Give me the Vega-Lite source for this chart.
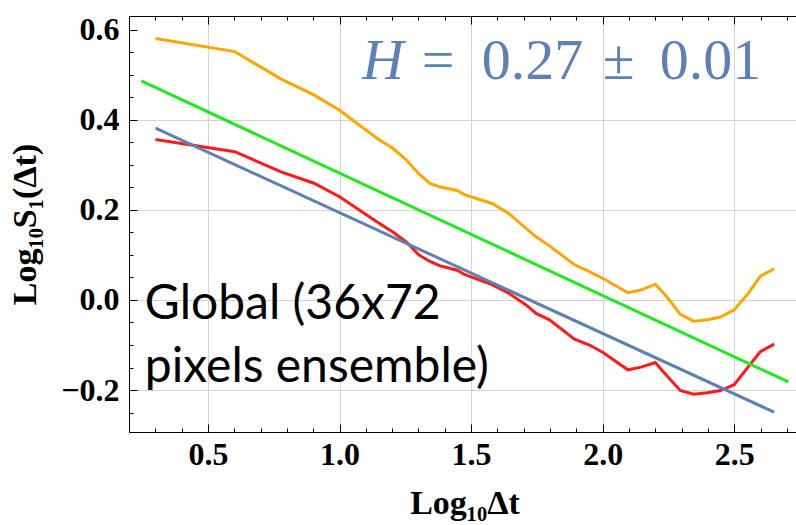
{
  "$schema": "https://vega.github.io/schema/vega-lite/v6.json",
  "width": 671,
  "height": 416,
  "autosize": {"type": "none"},
  "padding": {"left": 129, "top": 16, "right": 0, "bottom": 93},
  "background": "white",
  "config": {
    "view": {"stroke": "black", "strokeWidth": 1},
    "axis": {
      "domainColor": "black",
      "domainWidth": 1,
      "tickColor": "black",
      "tickWidth": 1,
      "gridColor": "#d4d4d4",
      "gridWidth": 1,
      "labelFont": "Liberation Serif",
      "labelFontSize": 32,
      "labelFontWeight": "bold",
      "labelColor": "black",
      "titleFont": "Liberation Serif",
      "titleFontSize": 34,
      "titleFontWeight": "bold",
      "titleColor": "black"
    }
  },
  "datasets": {
    "curves": [
      {"series": "S1", "x": 0.301, "y": 0.580},
      {"series": "S1", "x": 0.602, "y": 0.551},
      {"series": "S1", "x": 0.778, "y": 0.490},
      {"series": "S1", "x": 0.903, "y": 0.455},
      {"series": "S1", "x": 1.0, "y": 0.421},
      {"series": "S1", "x": 1.146, "y": 0.357},
      {"series": "S1", "x": 1.204, "y": 0.336},
      {"series": "S1", "x": 1.255, "y": 0.310},
      {"series": "S1", "x": 1.301, "y": 0.280},
      {"series": "S1", "x": 1.342, "y": 0.259},
      {"series": "S1", "x": 1.380, "y": 0.251},
      {"series": "S1", "x": 1.447, "y": 0.243},
      {"series": "S1", "x": 1.477, "y": 0.233},
      {"series": "S1", "x": 1.580, "y": 0.214},
      {"series": "S1", "x": 1.643, "y": 0.192},
      {"series": "S1", "x": 1.709, "y": 0.159},
      {"series": "S1", "x": 1.747, "y": 0.140},
      {"series": "S1", "x": 1.798, "y": 0.120},
      {"series": "S1", "x": 1.893, "y": 0.078},
      {"series": "S1", "x": 1.950, "y": 0.063},
      {"series": "S1", "x": 2.0, "y": 0.048},
      {"series": "S1", "x": 2.096, "y": 0.016},
      {"series": "S1", "x": 2.146, "y": 0.022},
      {"series": "S1", "x": 2.200, "y": 0.035},
      {"series": "S1", "x": 2.244, "y": 0.007},
      {"series": "S1", "x": 2.295, "y": -0.032},
      {"series": "S1", "x": 2.346, "y": -0.047},
      {"series": "S1", "x": 2.397, "y": -0.044},
      {"series": "S1", "x": 2.448, "y": -0.038},
      {"series": "S1", "x": 2.5, "y": -0.022},
      {"series": "S1", "x": 2.554, "y": 0.015},
      {"series": "S1", "x": 2.599, "y": 0.053},
      {"series": "S1", "x": 2.652, "y": 0.069},
      {"series": "S2", "x": 0.301, "y": 0.356},
      {"series": "S2", "x": 0.602, "y": 0.329},
      {"series": "S2", "x": 0.778, "y": 0.284},
      {"series": "S2", "x": 0.903, "y": 0.259},
      {"series": "S2", "x": 1.0, "y": 0.229},
      {"series": "S2", "x": 1.146, "y": 0.172},
      {"series": "S2", "x": 1.204, "y": 0.150},
      {"series": "S2", "x": 1.255, "y": 0.128},
      {"series": "S2", "x": 1.301, "y": 0.100},
      {"series": "S2", "x": 1.342, "y": 0.086},
      {"series": "S2", "x": 1.380, "y": 0.076},
      {"series": "S2", "x": 1.447, "y": 0.066},
      {"series": "S2", "x": 1.477, "y": 0.056},
      {"series": "S2", "x": 1.580, "y": 0.034},
      {"series": "S2", "x": 1.643, "y": 0.015},
      {"series": "S2", "x": 1.709, "y": -0.011},
      {"series": "S2", "x": 1.747, "y": -0.030},
      {"series": "S2", "x": 1.798, "y": -0.044},
      {"series": "S2", "x": 1.893, "y": -0.087},
      {"series": "S2", "x": 1.950, "y": -0.100},
      {"series": "S2", "x": 2.0, "y": -0.116},
      {"series": "S2", "x": 2.096, "y": -0.155},
      {"series": "S2", "x": 2.146, "y": -0.149},
      {"series": "S2", "x": 2.200, "y": -0.139},
      {"series": "S2", "x": 2.244, "y": -0.168},
      {"series": "S2", "x": 2.295, "y": -0.201},
      {"series": "S2", "x": 2.346, "y": -0.209},
      {"series": "S2", "x": 2.397, "y": -0.206},
      {"series": "S2", "x": 2.448, "y": -0.201},
      {"series": "S2", "x": 2.5, "y": -0.188},
      {"series": "S2", "x": 2.554, "y": -0.148},
      {"series": "S2", "x": 2.599, "y": -0.115},
      {"series": "S2", "x": 2.652, "y": -0.098},
      {"series": "fit", "x": 0.247, "y": 0.486},
      {"series": "fit", "x": 2.706, "y": -0.182},
      {"series": "ref", "x": 0.301, "y": 0.381},
      {"series": "ref", "x": 2.652, "y": -0.249}
    ],
    "hparts": [
      {"x": 1.313, "y": 0.49, "text": "="},
      {"x": 1.541, "y": 0.49, "text": "0.27"},
      {"x": 2.0, "y": 0.49, "text": "±"},
      {"x": 2.217, "y": 0.49, "text": "0.01"}
    ],
    "labels": [
      {"x": 0.26, "y": -0.042, "text": "Global (36x72"},
      {"x": 0.26, "y": -0.182, "text": "pixels ensemble)"}
    ]
  },
  "layer": [
    {
      "data": {"name": "curves"},
      "mark": {"type": "line", "strokeWidth": 3, "clip": true},
      "encoding": {
        "x": {
          "field": "x", "type": "quantitative",
          "scale": {"domain": [0.2, 2.75], "nice": false, "zero": false},
          "axis": {
            "orient": "bottom",
            "title": "Log₁₀Δt",
            "titlePadding": 16,
            "values": [0.5, 1.0, 1.5, 2.0, 2.5],
            "format": ".1f",
            "ticks": false,
            "labelPadding": 7,
            "labelFlush": false,
            "labelOverlap": false
          }
        },
        "y": {
          "field": "y", "type": "quantitative",
          "scale": {"domain": [-0.293, 0.63], "nice": false, "zero": false},
          "axis": {
            "orient": "left",
            "title": "Log₁₀S₁(Δt)",
            "titlePadding": 18,
            "values": [-0.2, 0, 0.2, 0.4, 0.6],
            "format": ".1f",
            "ticks": false,
            "gridOpacity": {"condition": {"test": "datum.value > 0.5", "value": 0}, "value": 1},
            "labelPadding": 10,
            "labelFlush": false,
            "labelOverlap": false
          }
        },
        "color": {
          "field": "series", "type": "nominal",
          "scale": {"domain": ["S1", "S2", "fit", "ref"], "range": ["#FFA500", "#FF1A1A", "#1EEA1E", "#5E81B5"]},
          "legend": null
        }
      }
    },
    {
      "data": {"name": "curves"},
      "mark": {"type": "point", "opacity": 0},
      "encoding": {
        "x": {
          "field": "x", "type": "quantitative",
          "axis": {"orient": "bottom", "offset": -8, "tickSize": 8, "title": null, "labels": false, "grid": false, "domain": false,
                   "values": [0.5, 1.0, 1.5, 2.0, 2.5]}
        },
        "y": {
          "field": "y", "type": "quantitative",
          "axis": {"orient": "left", "offset": -8, "tickSize": 8, "title": null, "labels": false, "grid": false, "domain": false,
                   "values": [-0.2, 0, 0.2, 0.4, 0.6]}
        }
      }
    },
    {
      "data": {"name": "curves"},
      "mark": {"type": "point", "opacity": 0},
      "encoding": {
        "x": {
          "field": "x", "type": "quantitative",
          "axis": {"orient": "bottom", "offset": -4, "tickSize": 4, "title": null, "labels": false, "grid": false, "domain": false,
                   "values": [0.2,0.3,0.4,0.6,0.7,0.8,0.9,1.1,1.2,1.3,1.4,1.6,1.7,1.8,1.9,2.1,2.2,2.3,2.4,2.6,2.7]}
        },
        "y": {
          "field": "y", "type": "quantitative",
          "axis": {"orient": "left", "offset": -4, "tickSize": 4, "title": null, "labels": false, "grid": false, "domain": false,
                   "values": [-0.25,-0.15,-0.1,-0.05,0.05,0.1,0.15,0.25,0.3,0.35,0.45,0.5,0.55]}
        }
      }
    },
    {
      "data": {"name": "curves"},
      "mark": {"type": "point", "opacity": 0},
      "encoding": {
        "x": {
          "field": "x", "type": "quantitative",
          "axis": {"orient": "top", "offset": -8, "tickSize": 8, "title": null, "labels": false, "grid": false, "domain": false,
                   "values": [0.5, 1.0, 1.5, 2.0, 2.5]}
        },
        "y": {"field": "y", "type": "quantitative", "axis": null}
      }
    },
    {
      "data": {"name": "curves"},
      "mark": {"type": "point", "opacity": 0},
      "encoding": {
        "x": {
          "field": "x", "type": "quantitative",
          "axis": {"orient": "top", "offset": -4, "tickSize": 4, "title": null, "labels": false, "grid": false, "domain": false,
                   "values": [0.2,0.3,0.4,0.6,0.7,0.8,0.9,1.1,1.2,1.3,1.4,1.6,1.7,1.8,1.9,2.1,2.2,2.3,2.4,2.6,2.7]}
        },
        "y": {"field": "y", "type": "quantitative", "axis": null}
      }
    },
    {
      "data": {"values": [{"x": 1.085, "y": 0.49, "text": "H"}]},
      "mark": {"type": "text", "font": "Liberation Serif", "fontSize": 58, "fontStyle": "italic", "color": "#5E81B5", "align": "left", "baseline": "alphabetic"},
      "encoding": {
        "x": {"field": "x", "type": "quantitative", "axis": null},
        "y": {"field": "y", "type": "quantitative", "axis": null},
        "text": {"field": "text"}
      }
    },
    {
      "data": {"name": "hparts"},
      "mark": {"type": "text", "font": "Liberation Serif", "fontSize": 58, "color": "#5E81B5", "align": "left", "baseline": "alphabetic"},
      "encoding": {
        "x": {"field": "x", "type": "quantitative", "axis": null},
        "y": {"field": "y", "type": "quantitative", "axis": null},
        "text": {"field": "text"}
      }
    },
    {
      "data": {"name": "labels"},
      "mark": {"type": "text", "font": "Lato", "fontSize": 48, "color": "black", "align": "left", "baseline": "alphabetic"},
      "encoding": {
        "x": {"field": "x", "type": "quantitative", "axis": null},
        "y": {"field": "y", "type": "quantitative", "axis": null},
        "text": {"field": "text"}
      }
    }
  ],
  "resolve": {"axis": {"x": "independent", "y": "independent"}}
}
